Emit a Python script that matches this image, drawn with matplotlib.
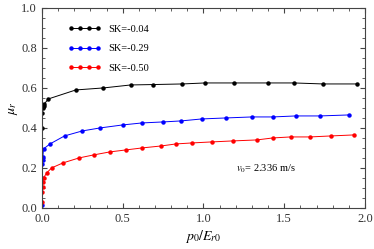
import numpy as np
import matplotlib.pyplot as plt
from matplotlib.ticker import MultipleLocator

plt.rcParams['font.family'] = ['Liberation Serif', 'DejaVu Serif']
plt.rcParams['mathtext.fontset'] = 'stix'

# SK=-0.04
x_k = [0.0, 0.002, 0.005, 0.01, 0.015, 0.04, 0.21, 0.38, 0.55, 0.69, 0.87,
       1.01, 1.19, 1.40, 1.56, 1.74, 1.95]
y_k = [0.40, 0.475, 0.50, 0.51, 0.52, 0.545, 0.59, 0.60, 0.615, 0.617, 0.62,
       0.625, 0.625, 0.625, 0.625, 0.62, 0.62]
# SK=-0.29
x_b = [0.0, 0.0, 0.002, 0.004, 0.006, 0.01, 0.05, 0.14, 0.25, 0.36, 0.5,
       0.62, 0.75, 0.86, 0.99, 1.14, 1.30, 1.43, 1.57, 1.72, 1.90]
y_b = [0.015, 0.15, 0.22, 0.24, 0.255, 0.295, 0.32, 0.36, 0.385, 0.40, 0.415,
       0.425, 0.43, 0.435, 0.445, 0.45, 0.455, 0.455, 0.46, 0.46, 0.465]
# SK=-0.50
x_r = [0.0, 0.002, 0.004, 0.006, 0.01, 0.03, 0.06, 0.13, 0.23, 0.32, 0.42,
       0.52, 0.62, 0.74, 0.83, 0.93, 1.05, 1.18, 1.33, 1.43, 1.54, 1.66,
       1.79, 1.93]
y_r = [0.03, 0.08, 0.105, 0.13, 0.15, 0.175, 0.20, 0.225, 0.25, 0.265, 0.28,
       0.29, 0.30, 0.31, 0.32, 0.325, 0.33, 0.335, 0.34, 0.35, 0.355, 0.355,
       0.36, 0.365]

fig = plt.figure(figsize=(3.74, 2.49), dpi=100)
ax = fig.add_axes([0.112, 0.165, 0.864, 0.803])

ax.plot(x_k, y_k, '-o', color='black', lw=0.7, ms=2.2, label='SK=-0.04')
ax.plot(x_b, y_b, '-o', color='blue', lw=0.7, ms=2.2, label='SK=-0.29')
ax.plot(x_r, y_r, '-o', color='red', lw=0.7, ms=2.2, label='SK=-0.50')

ax.set_xlim(0, 2.0)
ax.set_ylim(0, 1.0)
ax.xaxis.set_major_locator(MultipleLocator(0.5))
ax.xaxis.set_minor_locator(MultipleLocator(0.1))
ax.yaxis.set_major_locator(MultipleLocator(0.2))
ax.yaxis.set_minor_locator(MultipleLocator(0.05))
ax.tick_params(which='both', direction='in', top=True, right=True,
               labelsize=9, labelcolor='#333333', color='#444444')
ax.tick_params(which='major', length=3.5)
ax.tick_params(which='minor', length=2)
for s in ax.spines.values():
    s.set_color('#444444')

ax.set_xlabel('$p_0/E_{r0}$', fontsize=10, labelpad=2)
ax.set_ylabel('$\\mu_r$', fontsize=10, labelpad=1)
ax.text(1.2, 0.195, '$v_0$= 2.336 m/s', fontsize=7.5, va='center')

ax.legend(loc='upper left', bbox_to_anchor=(0.05, 0.965), frameon=False,
          numpoints=4, fontsize=7.5, handlelength=3.2, labelspacing=1.0,
          handletextpad=0.7)

fig.savefig('out.png', dpi=100)
